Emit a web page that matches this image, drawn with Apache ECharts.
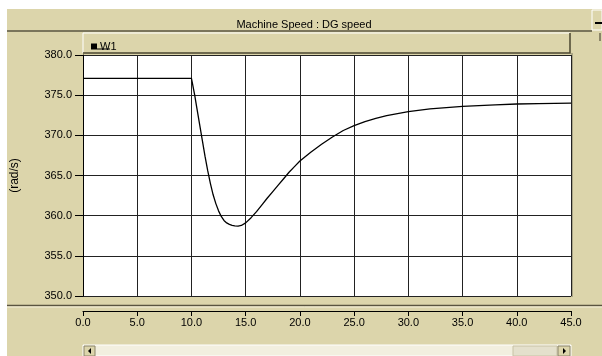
<!DOCTYPE html>
<html><head><meta charset="utf-8">
<script src="https://cdn.jsdelivr.net/npm/echarts@6/dist/echarts.min.js"></script>
<style>html,body{margin:0;padding:0;background:#fff}#c{width:602px;height:356px}</style>
</head><body><div id="c"></div>
<script>
const chartTitle = 'Machine Speed : DG speed';
const seriesName = 'W1';
const yAxisName = '(rad/s)';
const timeValues = [0, 10, 10.1, 10.3, 10.5, 10.75, 11, 11.25, 11.5, 11.75, 12, 12.25, 12.5, 12.75, 13, 13.25, 13.5, 13.75, 14, 14.3, 14.6, 15, 15.5, 16, 16.5, 17, 17.5, 18, 18.5, 19, 19.5, 20, 21, 22, 23, 24, 25, 26, 27, 28, 30, 32, 35, 38, 40, 42, 45];
const speedValues = [377.1, 377.1, 376.4, 375.0, 373.4, 371.4, 369.4, 367.4, 365.6, 364.0, 362.6, 361.5, 360.6, 359.9, 359.4, 359.1, 358.92, 358.8, 358.74, 358.7, 358.78, 359.1, 359.75, 360.5, 361.35, 362.2, 363.0, 363.8, 364.6, 365.4, 366.1, 366.8, 367.9, 368.9, 369.8, 370.6, 371.2, 371.7, 372.1, 372.45, 372.95, 373.3, 373.6, 373.8, 373.9, 373.95, 374.0];
const yTicks = [350, 355, 360, 365, 370, 375, 380];
const xTicks = [0, 5, 10, 15, 20, 25, 30, 35, 40, 45];

const tan = '#dcd5ab';
const font = 'Liberation Sans, Arial, sans-serif';
const chart = echarts.init(document.getElementById('c'));
const data = timeValues.map((t, i) => [t, speedValues[i]]);

chart.setOption({
  animation: false,
  backgroundColor: '#ffffff',
  textStyle: { fontFamily: font },
  graphic: [
    { type: 'rect', z: -10, shape: { x: 7, y: 9, width: 595, height: 347 }, style: { fill: tan } },
    { type: 'line', z: -5, shape: { x1: 7, y1: 31, x2: 592, y2: 31 }, style: { stroke: '#5a5440', lineWidth: 1.5 } },
    { type: 'rect', z: -5, shape: { x: 592, y: 10, width: 10, height: 20 }, style: { fill: tan, stroke: '#ffffff', lineWidth: 1 } },
    { type: 'line', z: -4, shape: { x1: 595, y1: 23, x2: 602, y2: 23 }, style: { stroke: '#000', lineWidth: 2 } },
    { type: 'line', z: -5, shape: { x1: 600, y1: 33, x2: 600, y2: 41 }, style: { stroke: '#8a8468', lineWidth: 2 } },
    { type: 'rect', z: -5, shape: { x: 83, y: 33, width: 487, height: 20 }, style: { fill: tan, stroke: null } },
    { type: 'polyline', z: -4, shape: { points: [[83, 53], [83, 33], [570, 33]] }, style: { stroke: '#ffffff', lineWidth: 1, fill: null } },
    { type: 'polyline', z: -4, shape: { points: [[570, 33], [570, 53], [83, 53]] }, style: { stroke: '#4a4630', lineWidth: 1.5, fill: null } },
    { type: 'line', z: 10, shape: { x1: 97, y1: 49, x2: 110, y2: 49 }, style: { stroke: '#000', lineWidth: 1 } },
    { type: 'line', z: -4, shape: { x1: 572, y1: 53, x2: 572, y2: 297 }, style: { stroke: '#9a9478', lineWidth: 1.5 } },
    { type: 'line', z: -5, shape: { x1: 7, y1: 305.5, x2: 602, y2: 305.5 }, style: { stroke: '#5a5440', lineWidth: 1.5 } },
    { type: 'line', z: -5, shape: { x1: 7, y1: 307, x2: 602, y2: 307 }, style: { stroke: '#f4f0dc', lineWidth: 1 } },
    { type: 'rect', z: -5, shape: { x: 83, y: 345, width: 488, height: 11 }, style: { fill: '#f2efdf', stroke: '#ffffff', lineWidth: 1 } },
    { type: 'rect', z: -4, shape: { x: 84, y: 346, width: 11, height: 10 }, style: { fill: tan, stroke: '#8a8468', lineWidth: 1 } },
    { type: 'polygon', z: -3, shape: { points: [[88, 351], [91, 348], [91, 354]] }, style: { fill: '#000' } },
    { type: 'rect', z: -4, shape: { x: 513, y: 346, width: 44, height: 10 }, style: { fill: '#e4e0cc', stroke: '#c8c2a4', lineWidth: 1 } },
    { type: 'rect', z: -4, shape: { x: 558, y: 346, width: 12, height: 10 }, style: { fill: tan, stroke: '#8a8468', lineWidth: 1 } },
    { type: 'polygon', z: -3, shape: { points: [[566, 351], [563, 348], [563, 354]] }, style: { fill: '#000' } }
  ],
  title: {
    text: chartTitle,
    left: 299, top: 14, textAlign: 'center',
    textStyle: { fontSize: 11, fontWeight: 'normal', color: '#000', fontFamily: font }
  },
  legend: {
    left: 86, top: 36,
    itemWidth: 6, itemHeight: 6, itemGap: 4,
    icon: 'rect',
    textStyle: { fontSize: 11, color: '#000', fontFamily: font, padding: [0, 0, 0, -2] },
    data: [{ name: seriesName, icon: 'rect', itemStyle: { color: '#000' } }]
  },
  grid: { left: 83, right: 31, top: 55, bottom: 60, show: true, backgroundColor: '#ffffff', borderWidth: 0 },
  xAxis: {
    type: 'value', min: 0, max: 45, interval: 5,
    offset: 15,
    axisLine: { show: true, lineStyle: { color: '#000', width: 1 } },
    axisTick: { show: true, inside: false, length: 5, lineStyle: { color: '#000' } },
    axisLabel: { color: '#000', fontSize: 11, margin: 6, fontFamily: font,
      formatter: v => xTicks.includes(v) ? v.toFixed(1) : '' },
    splitLine: { show: true, lineStyle: { color: '#222', width: 1 } }
  },
  yAxis: {
    type: 'value', min: 350, max: 380, interval: 5,
    name: yAxisName, nameLocation: 'middle', nameGap: 62, nameRotate: 90,
    nameTextStyle: { fontSize: 12, color: '#000', fontFamily: font },
    axisLine: { show: true, lineStyle: { color: '#000', width: 1 } },
    axisTick: { show: true, inside: false, length: 8, lineStyle: { color: '#000' } },
    axisLabel: { color: '#000', fontSize: 11, margin: 11, fontFamily: font,
      formatter: v => yTicks.includes(v) ? v.toFixed(1) : '' },
    splitLine: { show: true, lineStyle: { color: '#222', width: 1 } }
  },
  series: [{
    name: seriesName, type: 'line', data: data,
    showSymbol: false, symbol: 'none',
    lineStyle: { color: '#000', width: 1.3 },
    itemStyle: { color: '#000' }
  }]
});
</script></body></html>
